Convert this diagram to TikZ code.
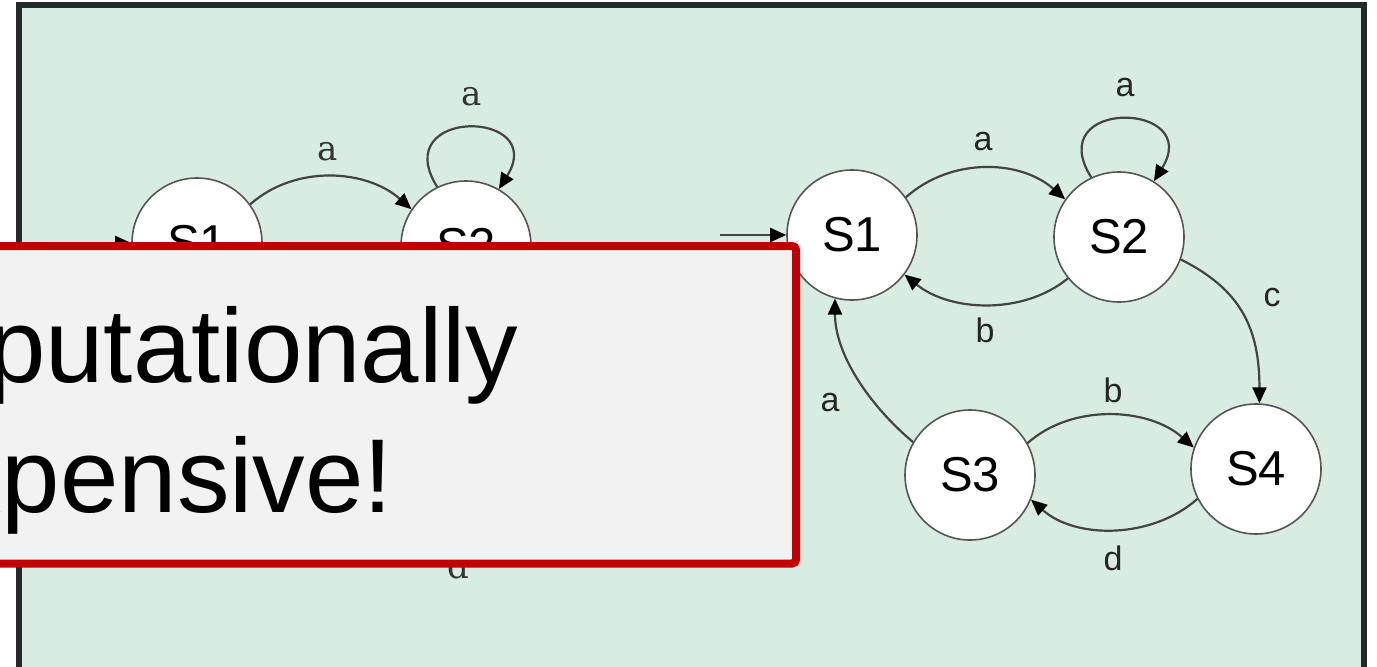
\documentclass[tikz,border=0pt]{standalone}
\usepackage{fontspec}
\usetikzlibrary{arrows.meta,shadows}
\newfontfamily\sansfam{Liberation Sans}
\newfontfamily\seriffam{DejaVu Serif}
\definecolor{panelgreen}{HTML}{D8ECE1}
\definecolor{panelframe}{HTML}{222A2B}
\definecolor{calloutred}{HTML}{C00000}
\definecolor{calloutfill}{HTML}{F2F2F2}
\definecolor{edgegray}{HTML}{444444}
\definecolor{ringgray}{HTML}{555555}

\begin{document}
\begin{tikzpicture}[x=1pt,y=1pt,
  state/.style={circle,draw=ringgray,line width=1.6pt,fill=white,
    minimum size=130pt,inner sep=0pt,font=\sansfam\fontsize{49}{59}\selectfont},
  trans/.style={draw=edgegray,line width=2.2pt,
    -{Triangle[length=16pt,width=14pt,color=black]}},
  lbl/.style={font=\sansfam\fontsize{34}{40}\selectfont,text=black!85},
  oldlbl/.style={font=\seriffam\fontsize{34}{40}\selectfont,text=black!80},
  callout/.style={draw=calloutred,fill=calloutfill,line width=8pt,
    rounded corners=4pt,
    drop shadow={shadow xshift=3pt,shadow yshift=-3pt,fill=black,opacity=0.18}},
  callouttext/.style={font=\sansfam\fontsize{105}{130}\selectfont,text=black,
    inner sep=0pt}
]
\useasboundingbox (0,0) rectangle (1377,-667);
\clip (0,0) rectangle (1377,-667);

% framed green panel
\draw[panelframe,fill=panelgreen,line width=6pt] (19,-5) rectangle (1364,-670);

% earlier automaton (left)
\node[state] (ls1) at (197,-243) {S1};
\node[state] (ls2) at (466,-246) {S2};
\coordinate (lin) at (60,-243);
\draw[trans] (lin) -- (ls1.west);
\draw[trans] (ls1.36) .. controls +(45,40) and +(-45,40) .. (ls2.146);
\draw[trans] (ls2.116) .. controls +(-50,80) and +(50,80) .. (ls2.60);
\node[oldlbl] (lla) at (328,-152) {a};
\node[oldlbl] (llb) at (472,-97) {a};
\node[oldlbl] (lld) at (458,-566) {d};

% four-state automaton (right)
\node[state] (s1) at (852,-235) {S1};
\node[state] (s2) at (1119,-237) {S2};
\node[state] (s3) at (970,-475) {S3};
\node[state] (s4) at (1256,-469) {S4};
\coordinate (in) at (720,-235);
\draw[trans] (in) -- (s1.west);
\draw[trans] (s1.35) .. controls +(45,40) and +(-45,40) .. (s2.145);
\draw[trans] (s2.115) .. controls +(-50,80) and +(50,80) .. (s2.58);
\draw[trans] (s2.219) .. controls +(-45,-37) and +(45,-37) .. (s1.323);
\draw[trans] (s2.340) .. controls +(60,-30) and +(0,75) .. (s4.87);
\draw[trans] (s3.29) .. controls +(45,40) and +(-45,40) .. (s4.161);
\draw[trans] (s4.207) .. controls +(-45,-40) and +(45,-40) .. (s3.338);
\draw[trans] (s3.150) .. controls +(-45,38) and +(0,-55) .. (s1.255);

\node[lbl] (la12) at (983,-142) {a};
\node[lbl] (la22) at (1125,-88) {a};
\node[lbl] (lb21) at (985,-330) {b};
\node[lbl] (lc24) at (1272,-298) {c};
\node[lbl] (lb34) at (1113,-390) {b};
\node[lbl] (ld43) at (1113,-558) {d};
\node[lbl] (la31) at (830,-403) {a};

% callout
\draw[callout] (-520,-246) rectangle (796,-563.5);
\node[callouttext,anchor=base] (cl1) at (142,-382) {Computationally};
\node[callouttext,anchor=base] (cl2) at (142,-512) {expensive!};
\end{tikzpicture}
\end{document}
